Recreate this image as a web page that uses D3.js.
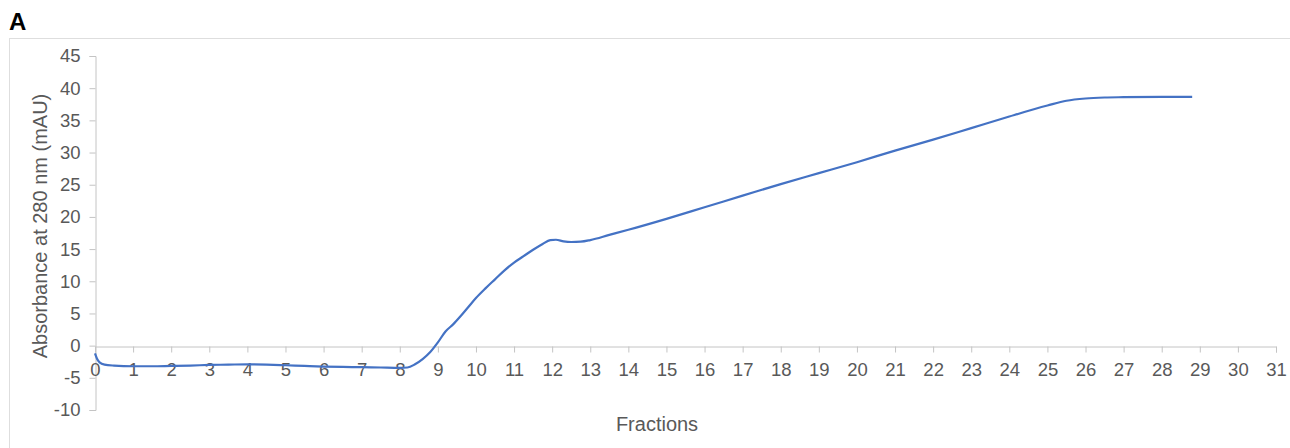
<!DOCTYPE html>
<html>
<head>
<meta charset="utf-8">
<script src="https://cdn.jsdelivr.net/npm/d3@7"></script>
<style>
  html, body { margin: 0; padding: 0; background: #fff; }
  svg { display: block; font-family: "Liberation Sans", Arial, sans-serif; }
</style>
</head>
<body>
<svg id="chart" width="1290" height="448"></svg>
<script>
// Elution profile: fraction number vs. absorbance at 280 nm (mAU)
const fractions = [0, 0.05, 0.12, 0.25, 0.5, 1, 1.5, 2, 2.5, 3, 3.5, 4, 4.5, 5, 5.5, 6, 6.5, 7, 7.5, 8,
  8.2, 8.4, 8.6, 8.8, 9.0, 9.2, 9.4, 9.6, 9.8, 10.0, 10.25, 10.5, 10.75, 11.0, 11.25, 11.5, 11.75, 11.95,
  12.1, 12.3, 12.5, 12.75, 13.0, 13.5, 14, 15, 16, 17, 18, 19, 20, 21, 22, 23, 24, 25, 25.5, 26, 26.5, 27, 28, 28.8];
const absorbance = [-1.2, -2.0, -2.6, -2.95, -3.1, -3.2, -3.2, -3.15, -3.1, -3.0, -2.95, -2.9, -2.95, -3.05, -3.15, -3.25, -3.3, -3.35, -3.4, -3.45,
  -3.4, -2.9, -2.1, -1.0, 0.5, 2.2, 3.3, 4.6, 6.0, 7.4, 8.9, 10.3, 11.7, 12.9, 13.9, 14.9, 15.8, 16.4,
  16.45, 16.2, 16.1, 16.15, 16.4, 17.2, 18.0, 19.7, 21.5, 23.3, 25.1, 26.8, 28.5, 30.3, 32.0, 33.8, 35.6, 37.3, 38.05, 38.4, 38.55, 38.6, 38.65, 38.65];
const xTicks = d3.range(0, 32, 1);
const yTicks = d3.range(-10, 50, 5);

const svg = d3.select("#chart");

// Panel frame
svg.append("rect")
  .attr("x", 9.5).attr("y", 38.5)
  .attr("width", 1300).attr("height", 430)
  .attr("fill", "none").attr("stroke", "#dedede").attr("stroke-width", 1);

// Panel letter
svg.append("text")
  .attr("x", 9).attr("y", 30)
  .attr("font-size", 24).attr("font-weight", "bold").attr("fill", "#000")
  .text("A");

const x = d3.scaleLinear().domain([0, 31]).range([95, 1276]);
const y = d3.scaleLinear().domain([-10, 45]).range([410, 56]);

const axisColor = "#c4c4c4";
const labelColor = "#595959";
const plainNumber = d => String(d); // hyphen-minus for negatives

// Y axis
const gy = svg.append("g")
  .attr("transform", "translate(95.5,0)")
  .call(d3.axisLeft(y).tickValues(yTicks).tickSize(6).tickPadding(9).tickFormat(plainNumber));
gy.selectAll("path, line").attr("stroke", axisColor);
gy.selectAll("text").attr("font-size", 18.5).attr("fill", labelColor)
  .attr("font-family", "'Liberation Sans', Arial, sans-serif");

// X axis at zero
const gx = svg.append("g")
  .attr("transform", `translate(0,${Math.round(y(0)) + 0.5})`)
  .call(d3.axisBottom(x).tickValues(xTicks).tickSize(6).tickPadding(10).tickFormat(plainNumber));
gx.selectAll("path, line").attr("stroke", axisColor);
gx.selectAll("text").attr("font-size", 18.5).attr("fill", labelColor)
  .attr("font-family", "'Liberation Sans', Arial, sans-serif");

// Axis titles
svg.append("text")
  .attr("x", 657).attr("y", 431)
  .attr("text-anchor", "middle").attr("font-size", 20).attr("fill", labelColor)
  .text("Fractions");

svg.append("text")
  .attr("transform", "translate(46.5,226) rotate(-90)")
  .attr("text-anchor", "middle").attr("font-size", 20).attr("fill", labelColor)
  .text("Absorbance at 280 nm (mAU)");

// Absorbance trace
const points = fractions.map((f, i) => [f, absorbance[i]]);
svg.append("path")
  .datum(points)
  .attr("fill", "none")
  .attr("stroke", "#4472C4")
  .attr("stroke-width", 2.2)
  .attr("stroke-linejoin", "round")
  .attr("d", d3.line().x(d => x(d[0])).y(d => y(d[1])).curve(d3.curveMonotoneX));
</script>
</body>
</html>
